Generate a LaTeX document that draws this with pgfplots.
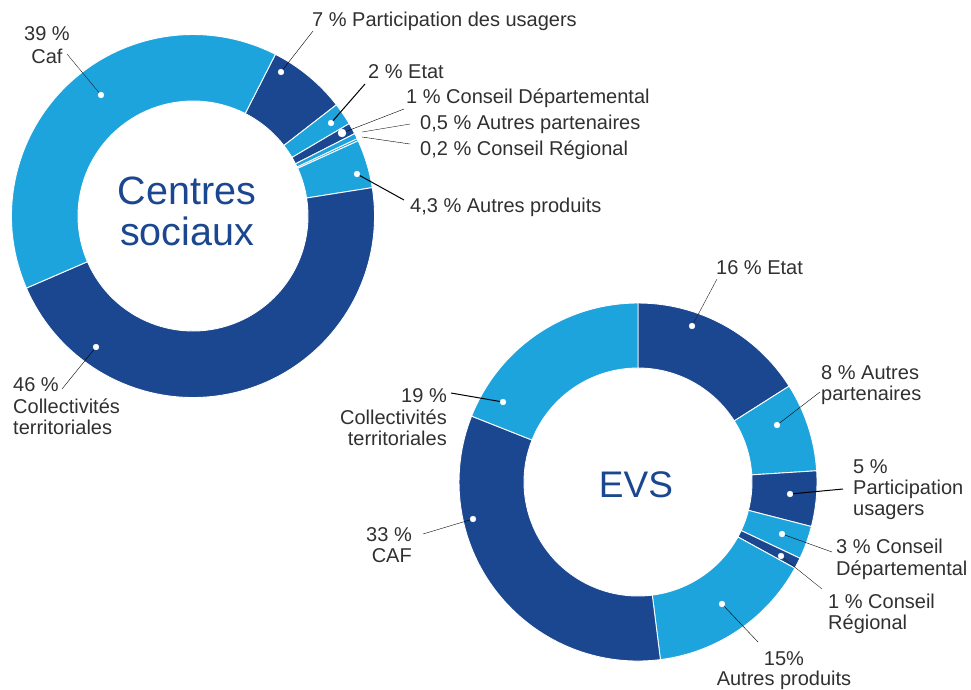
\documentclass[border=0pt]{standalone}
\usepackage{fontspec}
\setmainfont{Liberation Sans}
\usepackage{pgfplots}
\pgfplotsset{compat=1.18}
\usetikzlibrary{calc}
\definecolor{dkb}{HTML}{1A478F}
\definecolor{ltb}{HTML}{1EA4DC}
\definecolor{txt}{HTML}{303030}
\definecolor{ldr}{HTML}{222222}
\begin{document}
\begin{tikzpicture}[lbl/.style={font=\fontsize{20}{23}\selectfont, text=txt, inner sep=0pt}]
\begin{axis}[
  width=971pt, height=689pt, scale only axis,
  xmin=0, xmax=971, ymin=0, ymax=689, y dir=reverse,
  axis line style={draw=none}, ticks=none, clip=false,
  cycle list={{ldr, solid, line width=1pt, mark=none}},
]
\coordinate (BL) at (axis cs:0,689);
\coordinate (TR) at (axis cs:971,0);

% ---- Centres sociaux : cumulative shares (%), clockwise from 27 deg
\foreach \a/\b/\c in {0/7/dkb, 7/9/ltb, 9/10/dkb, 10/10.5/ltb, 10.5/10.7/ltb, 10.7/15/ltb, 15/61/dkb, 61/100/ltb}{
  \pgfmathsetmacro\sa{63-3.6*\a}
  \pgfmathsetmacro\ea{63-3.6*\b}
  \edef\temp{\noexpand\fill[\c, draw=white, line width=0.9pt, line join=round]
     ($(axis cs:193,216)+(\sa:181.5pt)$) arc[start angle=\sa, end angle=\ea, radius=181.5pt]
     -- ($(axis cs:193,216)+(\ea:115pt)$) arc[start angle=\ea, end angle=\sa, radius=115pt] -- cycle;}
  \temp
}
% ---- EVS : cumulative shares (%), clockwise from top
\foreach \a/\b/\c in {0/16/dkb, 16/24/ltb, 24/29/dkb, 29/32/ltb, 32/33/dkb, 33/48/ltb, 48/81/dkb, 81/100/ltb}{
  \pgfmathsetmacro\sa{90-3.6*\a}
  \pgfmathsetmacro\ea{90-3.6*\b}
  \edef\temp{\noexpand\fill[\c, draw=white, line width=0.9pt, line join=round]
     ($(axis cs:638,482)+(\sa:179pt)$) arc[start angle=\sa, end angle=\ea, radius=179pt]
     -- ($(axis cs:638,482)+(\ea:114pt)$) arc[start angle=\ea, end angle=\sa, radius=114pt] -- cycle;}
  \temp
}

% ---- leader lines
\addplot coordinates {(67,54) (101,95)};
\addplot coordinates {(313,31) (281,72)};
\addplot coordinates {(365,84) (331,123)};
\addplot coordinates {(404,109) (342,133)};
\addplot coordinates {(410,124) (362,132)};
\addplot coordinates {(410,144) (362,137)};
\addplot coordinates {(404,200) (357,174)};
\addplot coordinates {(62,389) (96,347)};
\addplot coordinates {(717,279) (692,326)};
\addplot coordinates {(820,392) (777,425)};
\addplot coordinates {(843,489) (790,494)};
\addplot coordinates {(832,552) (782,534)};
\addplot coordinates {(822,589) (781,556)};
\addplot coordinates {(758,642) (722,604)};
\addplot coordinates {(451,393) (503,402)};
\addplot coordinates {(423,534) (473,519)};

% ---- white dots
\addplot[only marks, mark=*, mark size=2.9pt, white, mark options={draw=none}] coordinates {
 (101,95) (281,72) (331,123) (357,174) (96,347)
 (692,326) (777,425) (790,494) (782,534) (781,556) (722,604) (503,402) (473,519)};
\addplot[only marks, mark=*, mark size=4pt, white, mark options={draw=none}] coordinates {(342,133)};

% ---- centre titles
\node[anchor=base, font=\fontsize{39.5}{41}\selectfont, text=dkb, inner sep=0pt] at (axis cs:187,204) {Centres};
\node[anchor=base, font=\fontsize{39.5}{41}\selectfont, text=dkb, inner sep=0pt] at (axis cs:187,245) {sociaux};
\node[anchor=base, font=\fontsize{37}{41}\selectfont, text=dkb, inner sep=0pt] at (axis cs:636,497) {EVS};

% ---- labels Centres sociaux
\node[lbl, anchor=base] at (axis cs:47,40) {39 \%};
\node[lbl, anchor=base] at (axis cs:47,63) {Caf};
\node[lbl, anchor=base west] at (axis cs:312,26) {7 \% Participation des usagers};
\node[lbl, anchor=base west] at (axis cs:368,78) {2 \% Etat};
\node[lbl, anchor=base west] at (axis cs:406,103) {1 \% Conseil Départemental};
\node[lbl, anchor=base west] at (axis cs:420,129) {0,5 \% Autres partenaires};
\node[lbl, anchor=base west] at (axis cs:420,155) {0,2 \% Conseil Régional};
\node[lbl, anchor=base west] at (axis cs:410,212) {4,3 \% Autres produits};
\node[lbl, anchor=base west] at (axis cs:13,391) {46 \%};
\node[lbl, anchor=base west] at (axis cs:13,413) {Collectivités};
\node[lbl, anchor=base west] at (axis cs:13,434) {territoriales};

% ---- labels EVS
\node[lbl, anchor=base west] at (axis cs:716,274) {16 \% Etat};
\node[lbl, anchor=base west] at (axis cs:821,379) {8 \% Autres};
\node[lbl, anchor=base west] at (axis cs:821,400) {partenaires};
\node[lbl, anchor=base west] at (axis cs:853,473) {5 \%};
\node[lbl, anchor=base west] at (axis cs:853,494) {Participation};
\node[lbl, anchor=base west] at (axis cs:853,515) {usagers};
\node[lbl, anchor=base west] at (axis cs:836,553) {3 \% Conseil};
\node[lbl, anchor=base west] at (axis cs:836,575) {Départemental};
\node[lbl, anchor=base west] at (axis cs:828,608) {1 \% Conseil};
\node[lbl, anchor=base west] at (axis cs:828,629) {Régional};
\node[lbl, anchor=base] at (axis cs:784,665) {15\%};
\node[lbl, anchor=base] at (axis cs:784,685) {Autres produits};
\node[lbl, anchor=base east] at (axis cs:447,402) {19 \%};
\node[lbl, anchor=base east] at (axis cs:447,424) {Collectivités};
\node[lbl, anchor=base east] at (axis cs:447,445) {territoriales};
\node[lbl, anchor=base east] at (axis cs:412,541) {33 \%};
\node[lbl, anchor=base east] at (axis cs:412,562) {CAF};
\end{axis}
\pgfresetboundingbox
\path[use as bounding box] (BL) rectangle (TR);
\end{tikzpicture}
\end{document}
